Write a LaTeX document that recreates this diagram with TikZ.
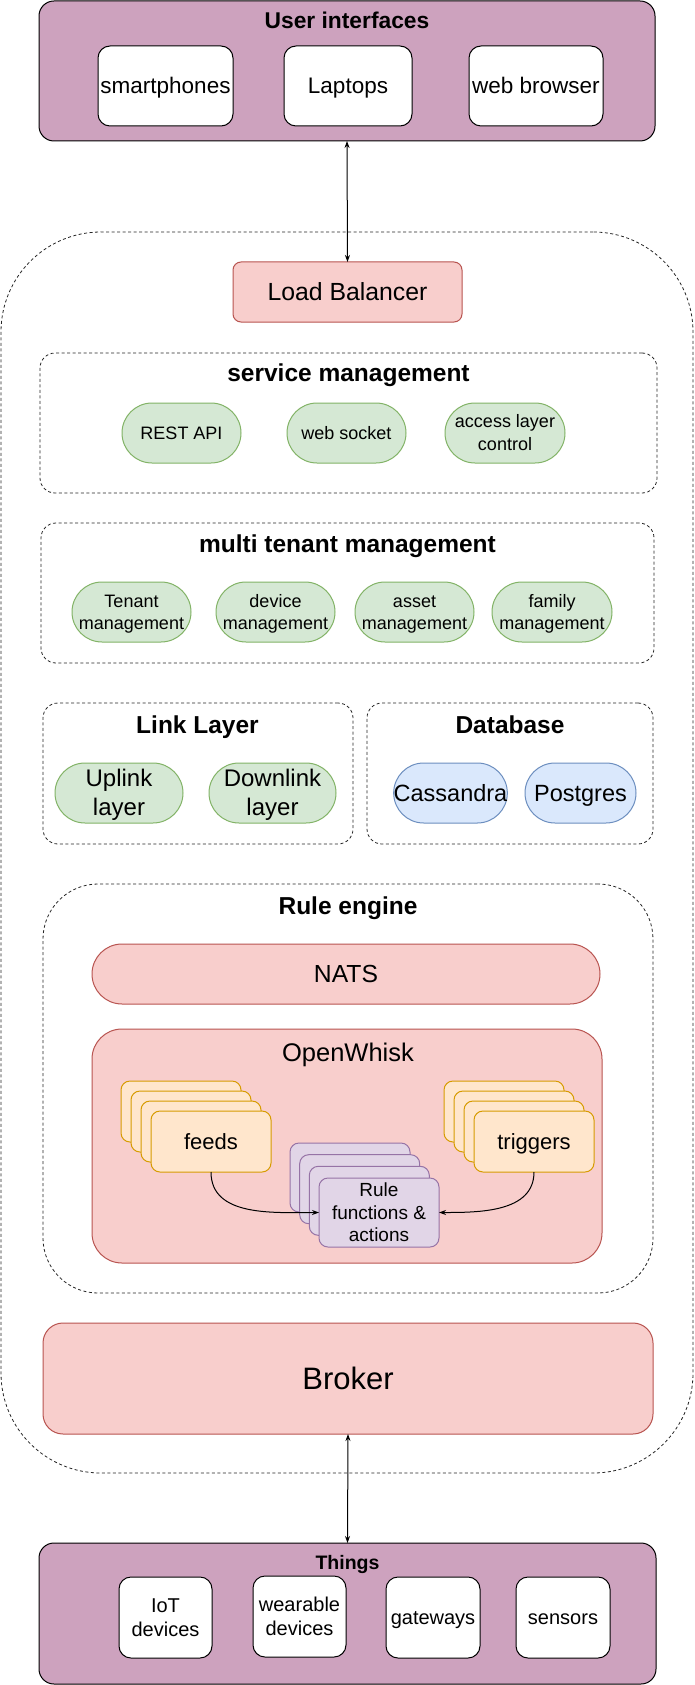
\documentclass[tikz,border=0pt]{standalone}
\usepackage{fontspec}
\setmainfont{Liberation Sans}
\usetikzlibrary{arrows.meta}
\definecolor{purpleF}{HTML}{CDA2BE}
\definecolor{redF}{HTML}{F8CECC}
\definecolor{redS}{HTML}{B85450}
\definecolor{greenF}{HTML}{D5E8D4}
\definecolor{greenS}{HTML}{82B366}
\definecolor{blueF}{HTML}{DAE8FC}
\definecolor{blueS}{HTML}{6C8EBF}
\definecolor{orangeF}{HTML}{FFE6CC}
\definecolor{orangeS}{HTML}{D79B00}
\definecolor{violetF}{HTML}{E1D5E7}
\definecolor{violetS}{HTML}{9673A6}
\newcommand\fsz[1]{\fontsize{#1pt}{#1pt}\selectfont\baselineskip=1.2em\relax}
\newcommand\fszb[2]{\fontsize{#1pt}{#1pt}\selectfont\baselineskip=#2em\relax}
\newcommand\ls{\rule[-0.2535em]{0pt}{1.2em}}
\begin{document}
\begin{tikzpicture}[x=1pt,y=-1pt,
  every node/.style={inner sep=0pt, outer sep=0pt},
  box/.style={draw, line width=1pt, align=center},
  uibox/.style={box, fill=purpleF, draw=black, rounded corners=15pt},
  whitebox/.style={box, fill=white, draw=black, rounded corners=12pt},
  dashbox/.style={draw=black!85, line width=0.8pt, dash pattern=on 3pt off 2.5pt, rounded corners=15pt},
  redbox/.style={box, fill=redF, draw=redS},
  greenpill/.style={box, fill=greenF, draw=greenS, rounded corners=30pt, minimum height=60pt, font=\fsz{18}},
  bluepill/.style={box, fill=blueF, draw=blueS, rounded corners=30pt, minimum height=60pt, font=\fsz{23.5}},
  orangecard/.style={box, fill=orangeF, draw=orangeS, rounded corners=9pt, minimum width=120pt, minimum height=61pt, font=\fsz{22}},
  violetcard/.style={box, fill=violetF, draw=violetS, rounded corners=9pt, minimum width=120pt, minimum height=69pt, font=\fsz{19}},
  title/.style={anchor=base, font=\bfseries\fsz{24.5}},
  link/.style={draw=black, line width=1pt, {Stealth[length=7pt,width=5pt]}-{Stealth[length=7pt,width=5pt]}},
  curvelink/.style={draw=black, line width=1pt, -{Stealth[length=7pt,width=5pt]}}
]
\useasboundingbox (0,0) rectangle (694,1685);
\fill[white] (0,0) rectangle (694,1685);

% outer dashed platform
\node[dashbox, rounded corners=100pt, minimum width=692pt, minimum height=1241pt] (platform) at (347,852.5) {};

% user interfaces
\node[uibox, minimum width=616pt, minimum height=140pt] (ui) at (347,71) {};
\node[title, font=\bfseries\fsz{22.8}] (uititle) at (347,28.3) {User interfaces};
\node[whitebox, minimum width=135pt, minimum height=80pt, font=\fsz{22.5}] (smart) at (165.5,86) {\ls smartphones\ls};
\node[whitebox, minimum width=128pt, minimum height=80pt, font=\fsz{22.5}] (laptops) at (348,86) {\ls Laptops\ls};
\node[whitebox, minimum width=134pt, minimum height=80pt, font=\fsz{22.5}] (web) at (536,86) {\ls web browser\ls};

% load balancer
\node[redbox, rounded corners=8pt, minimum width=229pt, minimum height=60pt, font=\fsz{24.8}] (lb) at (347.5,292) {\ls Load Balancer\ls};

% service management
\node[dashbox, minimum width=617pt, minimum height=140pt] (svc) at (348.5,423) {};
\node[title] (svctitle) at (348.5,381.5) {service management};
\node[greenpill, minimum width=119pt] (rest) at (181.5,433) {\ls REST API\ls};
\node[greenpill, minimum width=119pt] (ws) at (346.5,433) {\ls web socket\ls};
\node[greenpill, minimum width=120pt, font={\fszb{18}{1.12}}] (acl) at (505,433) {\ls access layer\\control\ls};

% multi tenant management
\node[dashbox, minimum width=613pt, minimum height=140pt] (mt) at (347.5,593) {};
\node[title] (mttitle) at (347.5,552.3) {multi tenant management};
\node[greenpill, minimum width=119pt] (tenant) at (131.5,612) {\ls Tenant\\management\ls};
\node[greenpill, minimum width=119pt] (device) at (275.5,612) {\ls device\\management\ls};
\node[greenpill, minimum width=119pt] (asset) at (414.5,612) {\ls asset\\management\ls};
\node[greenpill, minimum width=120pt] (family) at (552,612) {\ls family\\management\ls};

% link layer
\node[dashbox, minimum width=310pt, minimum height=141pt] (ll) at (198,773.5) {};
\node[title] (lltitle) at (197.5,733.3) {Link Layer};
\node[greenpill, minimum width=128pt, font=\fsz{24}] (up) at (119,793) {\ls Uplink\\layer\ls};
\node[greenpill, minimum width=127pt, font=\fsz{24}] (down) at (272.5,793) {\ls Downlink\\layer\ls};

% database
\node[dashbox, minimum width=286pt, minimum height=141pt] (db) at (510,773.5) {};
\node[title] (dbtitle) at (510,733.3) {Database};
\node[bluepill, minimum width=111pt] (cass) at (450.5,793) {\ls Cassandra\ls};
\node[bluepill, minimum width=111pt] (pg) at (580.5,793) {\ls Postgres\ls};

% rule engine
\node[dashbox, rounded corners=55pt, minimum width=610pt, minimum height=409pt] (re) at (348,1088.5) {};
\node[title] (retitle) at (348,914.3) {Rule engine};
\node[redbox, rounded corners=30pt, minimum width=508pt, minimum height=60pt, font=\fsz{24.7}] (nats) at (346,974) {\ls NATS\ls};
\node[redbox, rounded corners=30pt, minimum width=510pt, minimum height=234pt] (ow) at (347,1146) {};
\node[anchor=base, font=\fsz{25.5}] (owtitle) at (348,1061) {OpenWhisk};

% feeds stack
\node[orangecard] (f0) at (181,1111.5) {};
\node[orangecard] (f1) at (191,1121.5) {};
\node[orangecard] (f2) at (201,1131.5) {};
\node[orangecard] (f3) at (211,1141.5) {\ls feeds\ls};
% triggers stack
\node[orangecard] (t0) at (504,1111.5) {};
\node[orangecard] (t1) at (514,1121.5) {};
\node[orangecard] (t2) at (524,1131.5) {};
\node[orangecard] (t3) at (534,1141.5) {\ls triggers\ls};
% rule functions stack
\node[violetcard] (r0) at (350,1177.5) {};
\node[violetcard] (r1) at (359.7,1189.2) {};
\node[violetcard] (r2) at (369.3,1200.8) {};
\node[violetcard] (r3) at (379,1212.5) {\ls Rule\\functions \&\\actions\ls};

\draw[curvelink] (f3.south) to[out=-90,in=180] (r3.west);
\draw[curvelink] (t3.south) to[out=-90,in=0] (r3.east);

% broker
\node[redbox, rounded corners=20pt, minimum width=610pt, minimum height=111pt, font=\fsz{31}] (broker) at (348,1378.5) {\ls Broker\ls};

% things
\node[uibox, minimum width=617pt, minimum height=141pt] (things) at (347.5,1613.5) {};
\node[title, font=\bfseries\fsz{19.5}] (thtitle) at (347.5,1569) {Things};
\node[whitebox, minimum width=93pt, minimum height=81pt, font=\fsz{20}] (iot) at (165.5,1617.5) {\ls IoT\\devices\ls};
\node[whitebox, minimum width=93pt, minimum height=81pt, font=\fsz{20}] (wear) at (299.5,1616.5) {\ls wearable\\devices\ls};
\node[whitebox, minimum width=94pt, minimum height=81pt, font=\fsz{20}] (gw) at (433,1617.5) {\ls gateways\ls};
\node[whitebox, minimum width=94pt, minimum height=81pt, font=\fsz{20}] (sens) at (563,1617.5) {\ls sensors\ls};

% connectors
\draw[link] (ui.south) -- (lb.north);
\draw[link] (broker.south) -- (things.north);
\end{tikzpicture}
\end{document}
